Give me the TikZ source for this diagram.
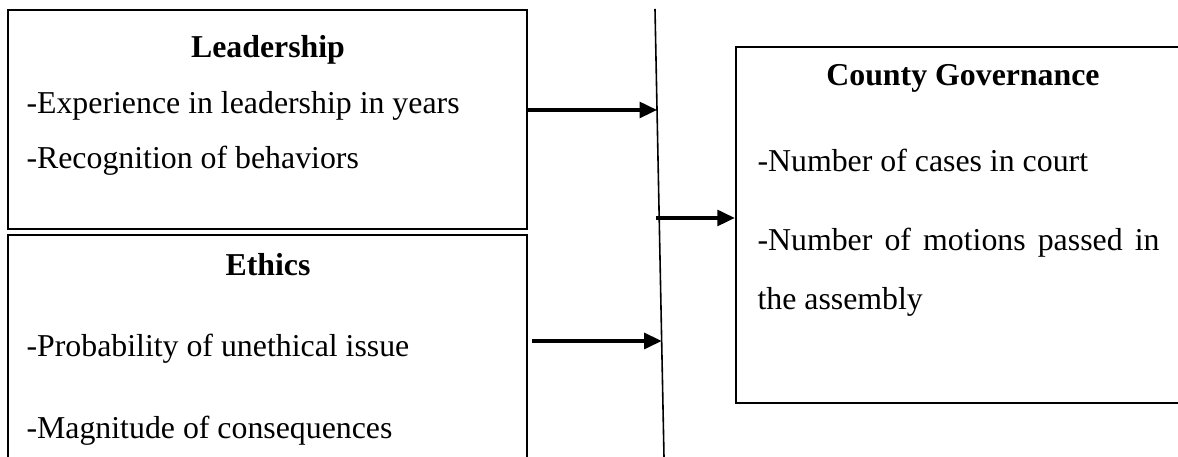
\documentclass[tikz,border=0pt]{standalone}
\usepackage{fontspec}
\setmainfont{Liberation Serif}
\usetikzlibrary{arrows.meta,positioning,calc}
\newcommand{\px}{0.377pt}

\begin{document}
\begin{tikzpicture}[x=\px,y=-\px,
  box/.style={draw,line width=0.9pt,inner sep=0pt},
  txt/.style={inner sep=0pt,anchor=base west,font=\fontsize{12}{14}\selectfont},
  head/.style={inner sep=0pt,anchor=base,font=\fontsize{12}{14}\selectfont\bfseries},
  arr/.style={line width=1.2pt,-{Triangle[length=6.6pt,width=6pt]}}]
\useasboundingbox (0,0) rectangle (1178,457);
\node[box,minimum width={519*\px},minimum height={219*\px}] (lead) at (267.5,119.5) {};
\node[box,minimum width={519*\px},minimum height={250*\px}] (eth) at (267.5,360) {};
\node[box,minimum width={464*\px},minimum height={356*\px}] (county) at (968,225) {};
\node[head] (leadhead) at (268,58) {Leadership};
\node[head] (ethhead) at (268,276) {Ethics};
\node[head] (countyhead) at (963,86) {County Governance};
\foreach \n/\y/\t in {l1/114/-Experience in leadership in years,l2/169/-Recognition of behaviors,
  e1/357/-Probability of unethical issue,e2/439/-Magnitude of consequences}{
  \node[txt] (\n) at (26,\y) {\t};
}
\node[txt] (c1) at (757,172) {-Number of cases in court};
\node[txt,text width={402*\px},align=justify,font=\fontsize{12}{21.9}\selectfont] (c2) at (757,251) {-Number of motions passed in the assembly};
\coordinate (bartop) at (655,9);
\coordinate (barbot) at (664,457);
\draw[line width=0.6pt] (bartop) -- (barbot);
\coordinate (in1) at ($(bartop)!{(110-9)/448}!(barbot)$);
\coordinate (in2) at ($(bartop)!{(218-9)/448}!(barbot)$);
\coordinate (in3) at ($(bartop)!{(341-9)/448}!(barbot)$);
\draw[arr] (lead.east |- in1) -- (in1);
\draw[arr] ($(in2)+(-3,0)$) -- (in2 -| county.west);
\draw[arr] ($(eth.east |- in3)+(4,0)$) -- (in3);
\end{tikzpicture}
\end{document}
